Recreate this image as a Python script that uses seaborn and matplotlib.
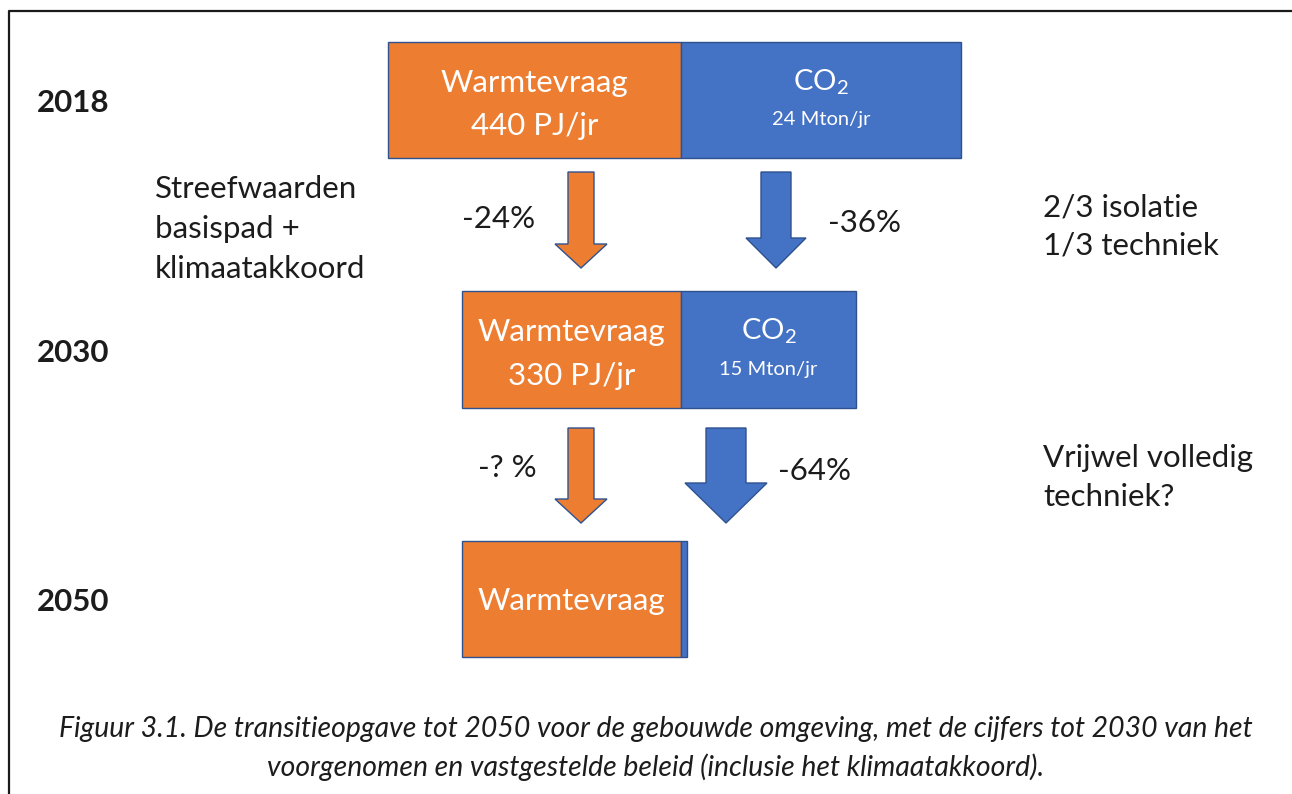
import pandas as pd
import matplotlib.pyplot as plt
import matplotlib.transforms as mtransforms
from matplotlib.patches import Polygon
from matplotlib.lines import Line2D
import seaborn as sns

# gegevens uit de figuur
years = ['2018', '2030', '2050']
warmte_pj = [440, 330, 330]
co2_mton = [24, 15, 0.5]
warmte_text = ['440 PJ/jr', '330 PJ/jr', '']
co2_text = ['24 Mton/jr', '15 Mton/jr', '']
warmte_change = ['-24%', '-? %']
co2_change = ['-36%', '-64%']
left_note = ['Streefwaarden', 'basispad +', 'klimaatakkoord']
right_notes = [['2/3 isolatie', '1/3 techniek'], ['Vrijwel volledig', 'techniek?']]
caption = ['Figuur 3.1. De transitieopgave tot 2050 voor de gebouwde omgeving, met de cijfers tot 2030 van het',
           'voorgenomen en vastgestelde beleid (inclusie het klimaatakkoord).']

ORANGE = '#ED7D31'
BLUE = '#4472C4'
EDGE = '#2F528F'
INK = '#1c1c1c'

PJ_PX = 0.665   # schaal oranje deel (px per PJ)
MT_PX = 11.65   # schaal blauw deel (px per Mton)

sns.set_theme(style='white')
plt.rcParams['font.family'] = ['Lato', 'DejaVu Sans']
plt.rcParams['mathtext.fontset'] = 'custom'
plt.rcParams['mathtext.rm'] = 'Lato'

df = pd.DataFrame({
    'jaar': years * 2,
    'deel': ['warmte'] * 3 + ['co2'] * 3,
    'x': [-v * PJ_PX for v in warmte_pj] + [v * MT_PX for v in co2_mton],
})

W, H = 1292, 794
fig = plt.figure(figsize=(W / 100, H / 100), dpi=100)
ax = fig.add_axes([0, 0, 1, 1])
sns.barplot(data=df, y='jaar', x='x', hue='deel', dodge=False, errorbar=None, saturation=1,
            palette={'warmte': ORANGE, 'co2': BLUE}, width=0.465,
            edgecolor=EDGE, linewidth=1, legend=False, ax=ax)

BOUND = 681
ROW0, ROWSTEP = 100, 249.5
ax.set_xlim(-BOUND, W - BOUND)
ax.set_ylim((H - ROW0) / ROWSTEP, -ROW0 / ROWSTEP)
ax.axis('off')

# pixel-coordinaten (links boven = 0,0)
px = mtransforms.Affine2D().scale(1 / W, -1 / H).translate(0, 1) + fig.transFigure
bx = mtransforms.blended_transform_factory(ax.transData, px)

BOX_FS = 22.5
NOTE_FS = 22.5

# teksten in de balken
for i, (w, c) in enumerate(zip(warmte_pj, co2_mton)):
    yc = ROW0 + i * ROWSTEP
    xo = -w * PJ_PX / 2
    if warmte_text[i]:
        ax.text(xo, yc - 8, 'Warmtevraag', transform=bx, ha='center', va='baseline', color='white', fontsize=BOX_FS)
        ax.text(xo, yc + 35, warmte_text[i], transform=bx, ha='center', va='baseline', color='white', fontsize=BOX_FS)
    else:
        ax.text(xo, yc + 11, 'Warmtevraag', transform=bx, ha='center', va='baseline', color='white', fontsize=BOX_FS)
    if co2_text[i]:
        xb = c * MT_PX / 2
        ax.text(xb, yc - 10, r'CO$_2$', transform=bx, ha='center', va='baseline', color='white', fontsize=21)
        ax.text(xb, yc + 25, co2_text[i], transform=bx, ha='center', va='baseline', color='white', fontsize=14.5)

# jaartallen
for i, yr in enumerate(years):
    ax.text(37, ROW0 + i * ROWSTEP + 12, yr, transform=px, ha='left', va='baseline',
            color=INK, fontsize=22.5, fontweight='bold')


def arrow(cx, top, tip, shaft, head, head_len, color):
    hs = tip - head_len
    pts = [(cx - shaft / 2, top), (cx + shaft / 2, top), (cx + shaft / 2, hs), (cx + head / 2, hs),
           (cx, tip), (cx - head / 2, hs), (cx - shaft / 2, hs)]
    fig.add_artist(Polygon(pts, closed=True, transform=px, facecolor=color, edgecolor=EDGE, lw=1))


arrow(581, 172, 268, 26, 52, 24, ORANGE)
arrow(776, 172, 268, 30, 60, 30, BLUE)
arrow(581, 428, 523, 26, 52, 24, ORANGE)
arrow(726, 428, 523, 40, 82, 40, BLUE)

# percentages
ax.text(462, 228, warmte_change[0], transform=px, ha='left', va='baseline', color=INK, fontsize=NOTE_FS)
ax.text(828, 232, co2_change[0], transform=px, ha='left', va='baseline', color=INK, fontsize=NOTE_FS)
ax.text(478, 477, warmte_change[1], transform=px, ha='left', va='baseline', color=INK, fontsize=NOTE_FS)
ax.text(778, 480, co2_change[1], transform=px, ha='left', va='baseline', color=INK, fontsize=NOTE_FS)

# toelichtingen
for k, line in enumerate(left_note):
    ax.text(155, 198 + 40 * k, line, transform=px, ha='left', va='baseline', color=INK, fontsize=NOTE_FS)
for base, lines in zip([216, 467], right_notes):
    for k, line in enumerate(lines):
        ax.text(1043, base + 39 * k, line, transform=px, ha='left', va='baseline', color=INK, fontsize=NOTE_FS)

# onderschrift
for k, line in enumerate(caption):
    ax.text(656, 737 + 39 * k, line, transform=px, ha='center', va='baseline', color=INK,
            fontsize=20.4, fontstyle='italic')

# kader
fig.add_artist(Line2D([9, 9, W], [H, 11, 11], transform=px, color='#1a1a1a', lw=1.6))

plt.savefig('out.png', dpi=100)
plt.close()
